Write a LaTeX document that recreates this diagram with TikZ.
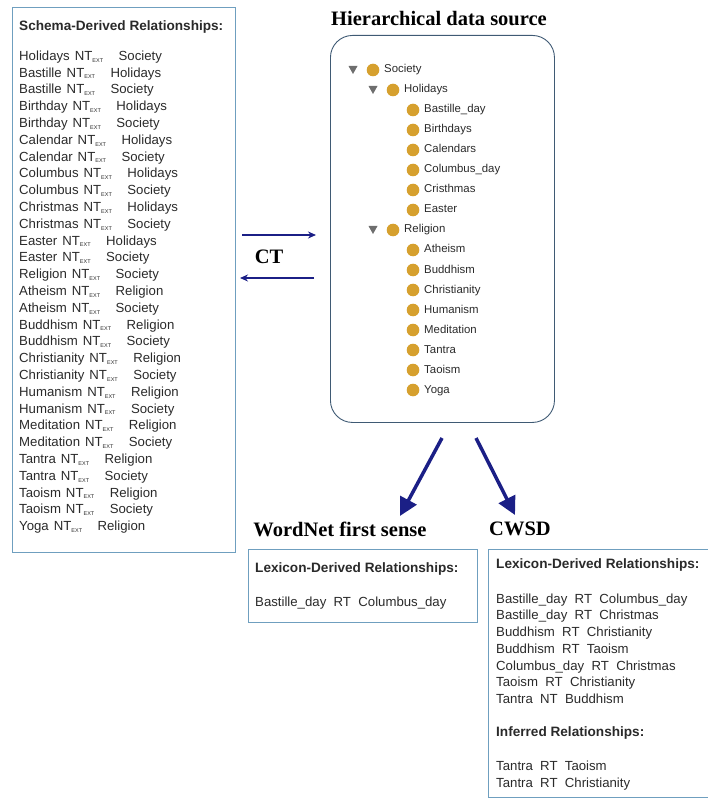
\documentclass[tikz,border=0pt]{standalone}
\usepackage{fontspec}
\setmainfont{Liberation Serif}
\setsansfont{Liberation Sans}
\usetikzlibrary{arrows.meta}

\definecolor{boxblue}{HTML}{6F9FBF}
\definecolor{srcline}{HTML}{3F5A74}
\definecolor{navyarrow}{HTML}{1B1F86}
\definecolor{bullet}{HTML}{D6A02E}
\definecolor{tritone}{HTML}{6E6E6E}
\definecolor{txt}{HTML}{2A2A2A}

\newcommand{\ntx}{NT\textsubscript{\fontsize{5.5}{6}\selectfont EXT}}

\begin{document}
\begin{tikzpicture}[x=1pt,y=-1pt,
    panel/.style={draw=boxblue, line width=1.3pt, anchor=north west, inner sep=0pt},
    entry/.style={anchor=west, inner sep=0pt, text=txt, text height=9pt, text depth=2.5pt,
      font=\sffamily\fontsize{13.2}{15}\selectfont},
    heading/.style={entry, font=\sffamily\bfseries\fontsize{13.6}{15}\selectfont},
    bigtitle/.style={inner sep=0pt, text=black, font=\rmfamily\bfseries\fontsize{20.5}{22}\selectfont},
    treelabel/.style={anchor=west, inner sep=0pt, text=txt, text height=8pt, text depth=2pt,
      font=\sffamily\fontsize{11.4}{13}\selectfont},
    ctarrow/.style={navyarrow, line width=1.6pt, -{Stealth[length=8pt,width=7pt]}},
    downarrow/.style={navyarrow, line width=3.5pt, -{Triangle[length=18pt,width=18pt]}}
  ]
  \useasboundingbox (0,0) rectangle (707,799);

  % Schema-derived panel on the left
  \node[panel, minimum width=223pt, minimum height=545pt] (schema) at (12,7) {};
  \node[heading] (schemahead) at (19,27) {Schema-Derived Relationships:};
  \foreach \a/\b [count=\i] in {Holidays/Society, Bastille/Holidays, Bastille/Society,
      Birthday/Holidays, Birthday/Society, Calendar/Holidays, Calendar/Society,
      Columbus/Holidays, Columbus/Society, Christmas/Holidays, Christmas/Society,
      Easter/Holidays, Easter/Society, Religion/Society, Atheism/Religion, Atheism/Society,
      Buddhism/Religion, Buddhism/Society, Christianity/Religion, Christianity/Society,
      Humanism/Religion, Humanism/Society, Meditation/Religion, Meditation/Society,
      Tantra/Religion, Tantra/Society, Taoism/Religion, Taoism/Society, Yoga/Religion} {
    \node[entry] (s\i) at (19,{57+16.8*(\i-1)}) {\a\hspace{5pt}\ntx\hspace{15pt}\b};
  }

  % Hierarchical data source
  \node[bigtitle] (srctitle) at (439,19) {Hierarchical data source};
  \node[draw=srcline, line width=0.9pt, rounded corners=22pt, anchor=north west,
    minimum width=224pt, minimum height=387pt] (source) at (330,35) {};
  \foreach \lvl/\name [count=\i] in {1/Society, 2/Holidays, 3/Bastille\_day, 3/Birthdays,
      3/Calendars, 3/Columbus\_day, 3/Cristhmas, 3/Easter, 2/Religion, 3/Atheism,
      3/Buddhism, 3/Christianity, 3/Humanism, 3/Meditation, 3/Tantra, 3/Taoism, 3/Yoga} {
    \pgfmathsetmacro{\ty}{70+20*(\i-1)}
    \pgfmathsetmacro{\tx}{353+20*\lvl}
    \ifnum\lvl<3
      \fill[tritone] (\tx-24.5,\ty-4) -- (\tx-15.5,\ty-4) -- (\tx-20,\ty+4) -- cycle;
    \fi
    \fill[bullet] (\tx,\ty) circle (6.3pt);
    \node[treelabel] (t\i) at (\tx+11,\ty) {\name};
  }

  % CT arrows between the panels
  \coordinate (ctin-a) at (242,235);
  \coordinate (ctin-b) at (316,235);
  \coordinate (ctout-a) at (314,278);
  \coordinate (ctout-b) at (240,278);
  \draw[ctarrow] (ctin-a) -- (ctin-b);
  \draw[ctarrow] (ctout-a) -- (ctout-b);
  \node[bigtitle] (ct) at (269,257) {CT};

  % Arrows down to the two results
  \coordinate (src-l) at (442,438);
  \coordinate (src-r) at (476,438);
  \coordinate (wn-in) at (400,516);
  \coordinate (cw-in) at (515,515);
  \draw[downarrow] (src-l) -- (wn-in);
  \draw[downarrow] (src-r) -- (cw-in);

  % WordNet first sense
  \node[bigtitle] (wntitle) at (340,529) {WordNet first sense};
  \node[panel, minimum width=229pt, minimum height=73pt] (wordnet) at (248,549) {};
  \node[heading] (wnhead) at (255,569) {Lexicon-Derived Relationships:};
  \node[entry] (wn1) at (255,603) {Bastille\_day~~RT~~Columbus\_day};

  % CWSD
  \node[bigtitle, anchor=west] (cwtitle) at (489,529) {CWSD};
  \node[panel, minimum width=232pt, minimum height=248pt] (cwsd) at (488,549) {};
  \node[heading] (cwhead) at (496,565) {Lexicon-Derived Relationships:};
  \foreach \rel [count=\i] in {Bastille\_day~~RT~~Columbus\_day, Bastille\_day~~RT~~Christmas,
      Buddhism~~RT~~Christianity, Buddhism~~RT~~Taoism, Columbus\_day~~RT~~Christmas,
      Taoism~~RT~~Christianity, Tantra~~NT~~Buddhism} {
    \node[entry] (c\i) at (496,{600+16.7*(\i-1)}) {\rel};
  }
  \node[heading] (infhead) at (496,733) {Inferred Relationships:};
  \node[entry] (inf1) at (496,767) {Tantra~~RT~~Taoism};
  \node[entry] (inf2) at (496,784) {Tantra~~RT~~Christianity};
\end{tikzpicture}
\end{document}
